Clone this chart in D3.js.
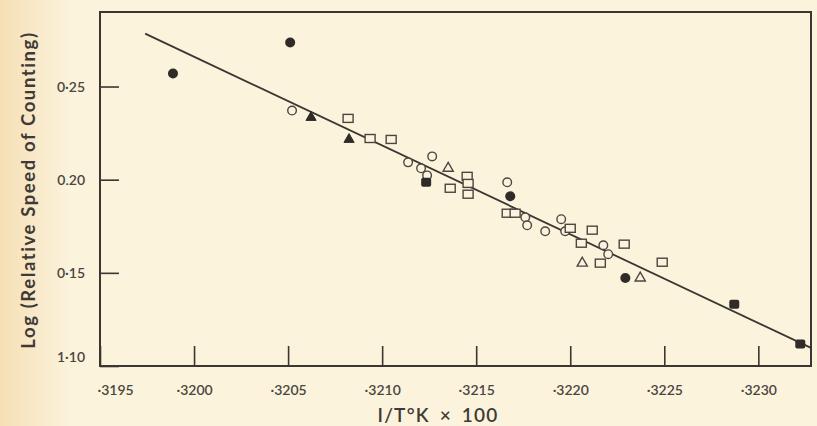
<!DOCTYPE html>
<html>
<head>
<meta charset="utf-8">
<script src="https://cdn.jsdelivr.net/npm/d3@7"></script>
<style>
  html, body { margin: 0; padding: 0; background: #fbf3dc; }
  svg { display: block; }
  text { font-family: Lato, "Open Sans", sans-serif; fill: #3f3a35; }
</style>
</head>
<body>
<svg id="chart" width="817" height="426"></svg>
<script>
// ---- data ----
const xTicks = [3195, 3200, 3205, 3210, 3215, 3220, 3225, 3230];
const xTickLabels = ["·3195", "·3200", "·3205", "·3210", "·3215", "·3220", "·3225", "·3230"];
const yTicks = [0.25, 0.20, 0.15, 0.10];
const yTickLabels = ["0·25", "0.20", "0·15", "1·10"];

const filledCircleX = [3198.88, 3205.11, 3216.81, 3222.93];
const filledCircleY = [0.257, 0.2736, 0.1911, 0.1472];

const filledSquareX = [3212.34, 3228.72, 3232.23];
const filledSquareY = [0.1986, 0.1332, 0.1118];

const filledTriangleX = [3206.22, 3208.24];
const filledTriangleY = [0.2334, 0.2216];

const openCircleX = [3205.21, 3211.38, 3212.07, 3212.39, 3212.66, 3216.65, 3217.61, 3217.71, 3218.67, 3219.52, 3219.73, 3221.76, 3222.02];
const openCircleY = [0.2371, 0.2093, 0.2061, 0.2023, 0.2125, 0.1986, 0.1798, 0.1755, 0.1723, 0.1788, 0.1723, 0.1648, 0.1600];

const openSquareX = [3208.19, 3209.36, 3210.48, 3213.62, 3214.52, 3214.57, 3214.57, 3216.65, 3217.07, 3220.0, 3221.17, 3220.59, 3221.60, 3222.87, 3224.89];
const openSquareY = [0.2329, 0.2221, 0.2216, 0.1954, 0.2018, 0.1980, 0.1922, 0.1820, 0.1820, 0.1739, 0.1729, 0.1659, 0.1552, 0.1654, 0.1557];

const openTriangleX = [3213.51, 3220.64, 3223.72];
const openTriangleY = [0.2061, 0.1552, 0.1472];

const fitLineX = [3197.4, 3232.8];
const fitLineY = [0.2784, 0.1097];

const xTitle = "I/T°K × 100";
const yTitle = "Log (Relative Speed of Counting)";

// ---- drawing ----
const svg = d3.select("#chart");
const ink = "#3a3631";
const markInk = "#4b4641";

const defs = svg.append("defs");
const grad = defs.append("linearGradient").attr("id", "edge").attr("x1", 0).attr("x2", 1);
grad.append("stop").attr("offset", "0%").attr("stop-color", "#f6dfb6");
grad.append("stop").attr("offset", "100%").attr("stop-color", "#fbf3dc");
svg.append("rect").attr("x", 0).attr("y", 0).attr("width", 70).attr("height", 426).attr("fill", "url(#edge)");

const x = d3.scaleLinear().domain([3195, 3232.8]).range([100, 811]);
const y = d3.scaleLinear().domain([0.10, 0.29]).range([366, 12]);

// frame
svg.append("rect")
  .attr("x", x(3195)).attr("y", y(0.29))
  .attr("width", x(3232.8) - x(3195)).attr("height", y(0.10) - y(0.29))
  .attr("fill", "none").attr("stroke", ink).attr("stroke-width", 2);

// x axis
const xAxis = d3.axisBottom(x)
  .tickValues(xTicks)
  .tickSizeInner(-20).tickSizeOuter(0).tickPadding(19)
  .tickFormat((d, i) => xTickLabels[i]);
const gx = svg.append("g").attr("transform", `translate(0,${y(0.10)})`).call(xAxis);
gx.select(".domain").remove();
gx.selectAll("line").attr("stroke", ink).attr("stroke-width", 1.6);
gx.selectAll("text").attr("font-size", 14).attr("font-weight", 600).style("fill", "#4a453f");
gx.selectAll("text").filter((d, i) => i === 0).attr("dx", 15);

// y axis
const yAxis = d3.axisLeft(y)
  .tickValues(yTicks)
  .tickSizeInner(-19).tickSizeOuter(0).tickPadding(15)
  .tickFormat((d, i) => yTickLabels[i]);
const gy = svg.append("g").attr("transform", `translate(${x(3195)},0)`).call(yAxis);
gy.select(".domain").remove();
gy.selectAll("line").attr("stroke", ink).attr("stroke-width", 1.6);
gy.selectAll("text").attr("font-size", 14).attr("font-weight", 600).style("fill", "#4a453f");
gy.selectAll("text").filter((d, i) => i === yTicks.length - 1).attr("dy", "-0.3em");

// titles
svg.append("text")
  .attr("x", 438).attr("y", 422)
  .attr("text-anchor", "middle")
  .attr("font-size", 19).attr("font-weight", 600)
  .attr("letter-spacing", 1.2)
  .attr("word-spacing", 4)
  .text(xTitle);
svg.append("text")
  .attr("transform", `translate(35,190) rotate(-90)`)
  .attr("text-anchor", "middle")
  .attr("font-size", 18.5).attr("font-weight", 700)
  .attr("letter-spacing", 1.6)
  .text(yTitle);

// fit line
svg.append("line")
  .attr("x1", x(fitLineX[0])).attr("y1", y(fitLineY[0]))
  .attr("x2", x(fitLineX[1])).attr("y2", y(fitLineY[1]))
  .attr("stroke", ink).attr("stroke-width", 1.8);

const zip = (xs, ys) => xs.map((v, i) => ({ x: v, y: ys[i] }));
const marks = svg.append("g");

// open circles
marks.selectAll(".oc").data(zip(openCircleX, openCircleY)).join("circle")
  .attr("cx", d => x(d.x)).attr("cy", d => y(d.y)).attr("r", 4.3)
  .attr("fill", "#fbf3dc").attr("stroke", markInk).attr("stroke-width", 1.4);

// open squares
marks.selectAll(".os").data(zip(openSquareX, openSquareY)).join("rect")
  .attr("x", d => x(d.x) - 5).attr("y", d => y(d.y) - 4)
  .attr("width", 10).attr("height", 8)
  .attr("fill", "#fbf3dc").attr("stroke", markInk).attr("stroke-width", 1.4);

// open triangles
const tri = d3.symbol().type(d3.symbolTriangle).size(45);
marks.selectAll(".ot").data(zip(openTriangleX, openTriangleY)).join("path")
  .attr("d", tri).attr("transform", d => `translate(${x(d.x)},${y(d.y)})`)
  .attr("fill", "#fbf3dc").attr("stroke", markInk).attr("stroke-width", 1.4);

// filled triangles
marks.selectAll(".ft").data(zip(filledTriangleX, filledTriangleY)).join("path")
  .attr("d", tri).attr("transform", d => `translate(${x(d.x)},${y(d.y)})`)
  .attr("fill", "#2f2b28").attr("stroke", "#2f2b28").attr("stroke-width", 1);

// filled squares
marks.selectAll(".fs").data(zip(filledSquareX, filledSquareY)).join("rect")
  .attr("x", d => x(d.x) - 5).attr("y", d => y(d.y) - 4.5)
  .attr("width", 10).attr("height", 9).attr("rx", 2)
  .attr("fill", "#2f2b28");

// filled circles
marks.selectAll(".fc").data(zip(filledCircleX, filledCircleY)).join("circle")
  .attr("cx", d => x(d.x)).attr("cy", d => y(d.y)).attr("r", 5)
  .attr("fill", "#2f2b28");
</script>
</body>
</html>
